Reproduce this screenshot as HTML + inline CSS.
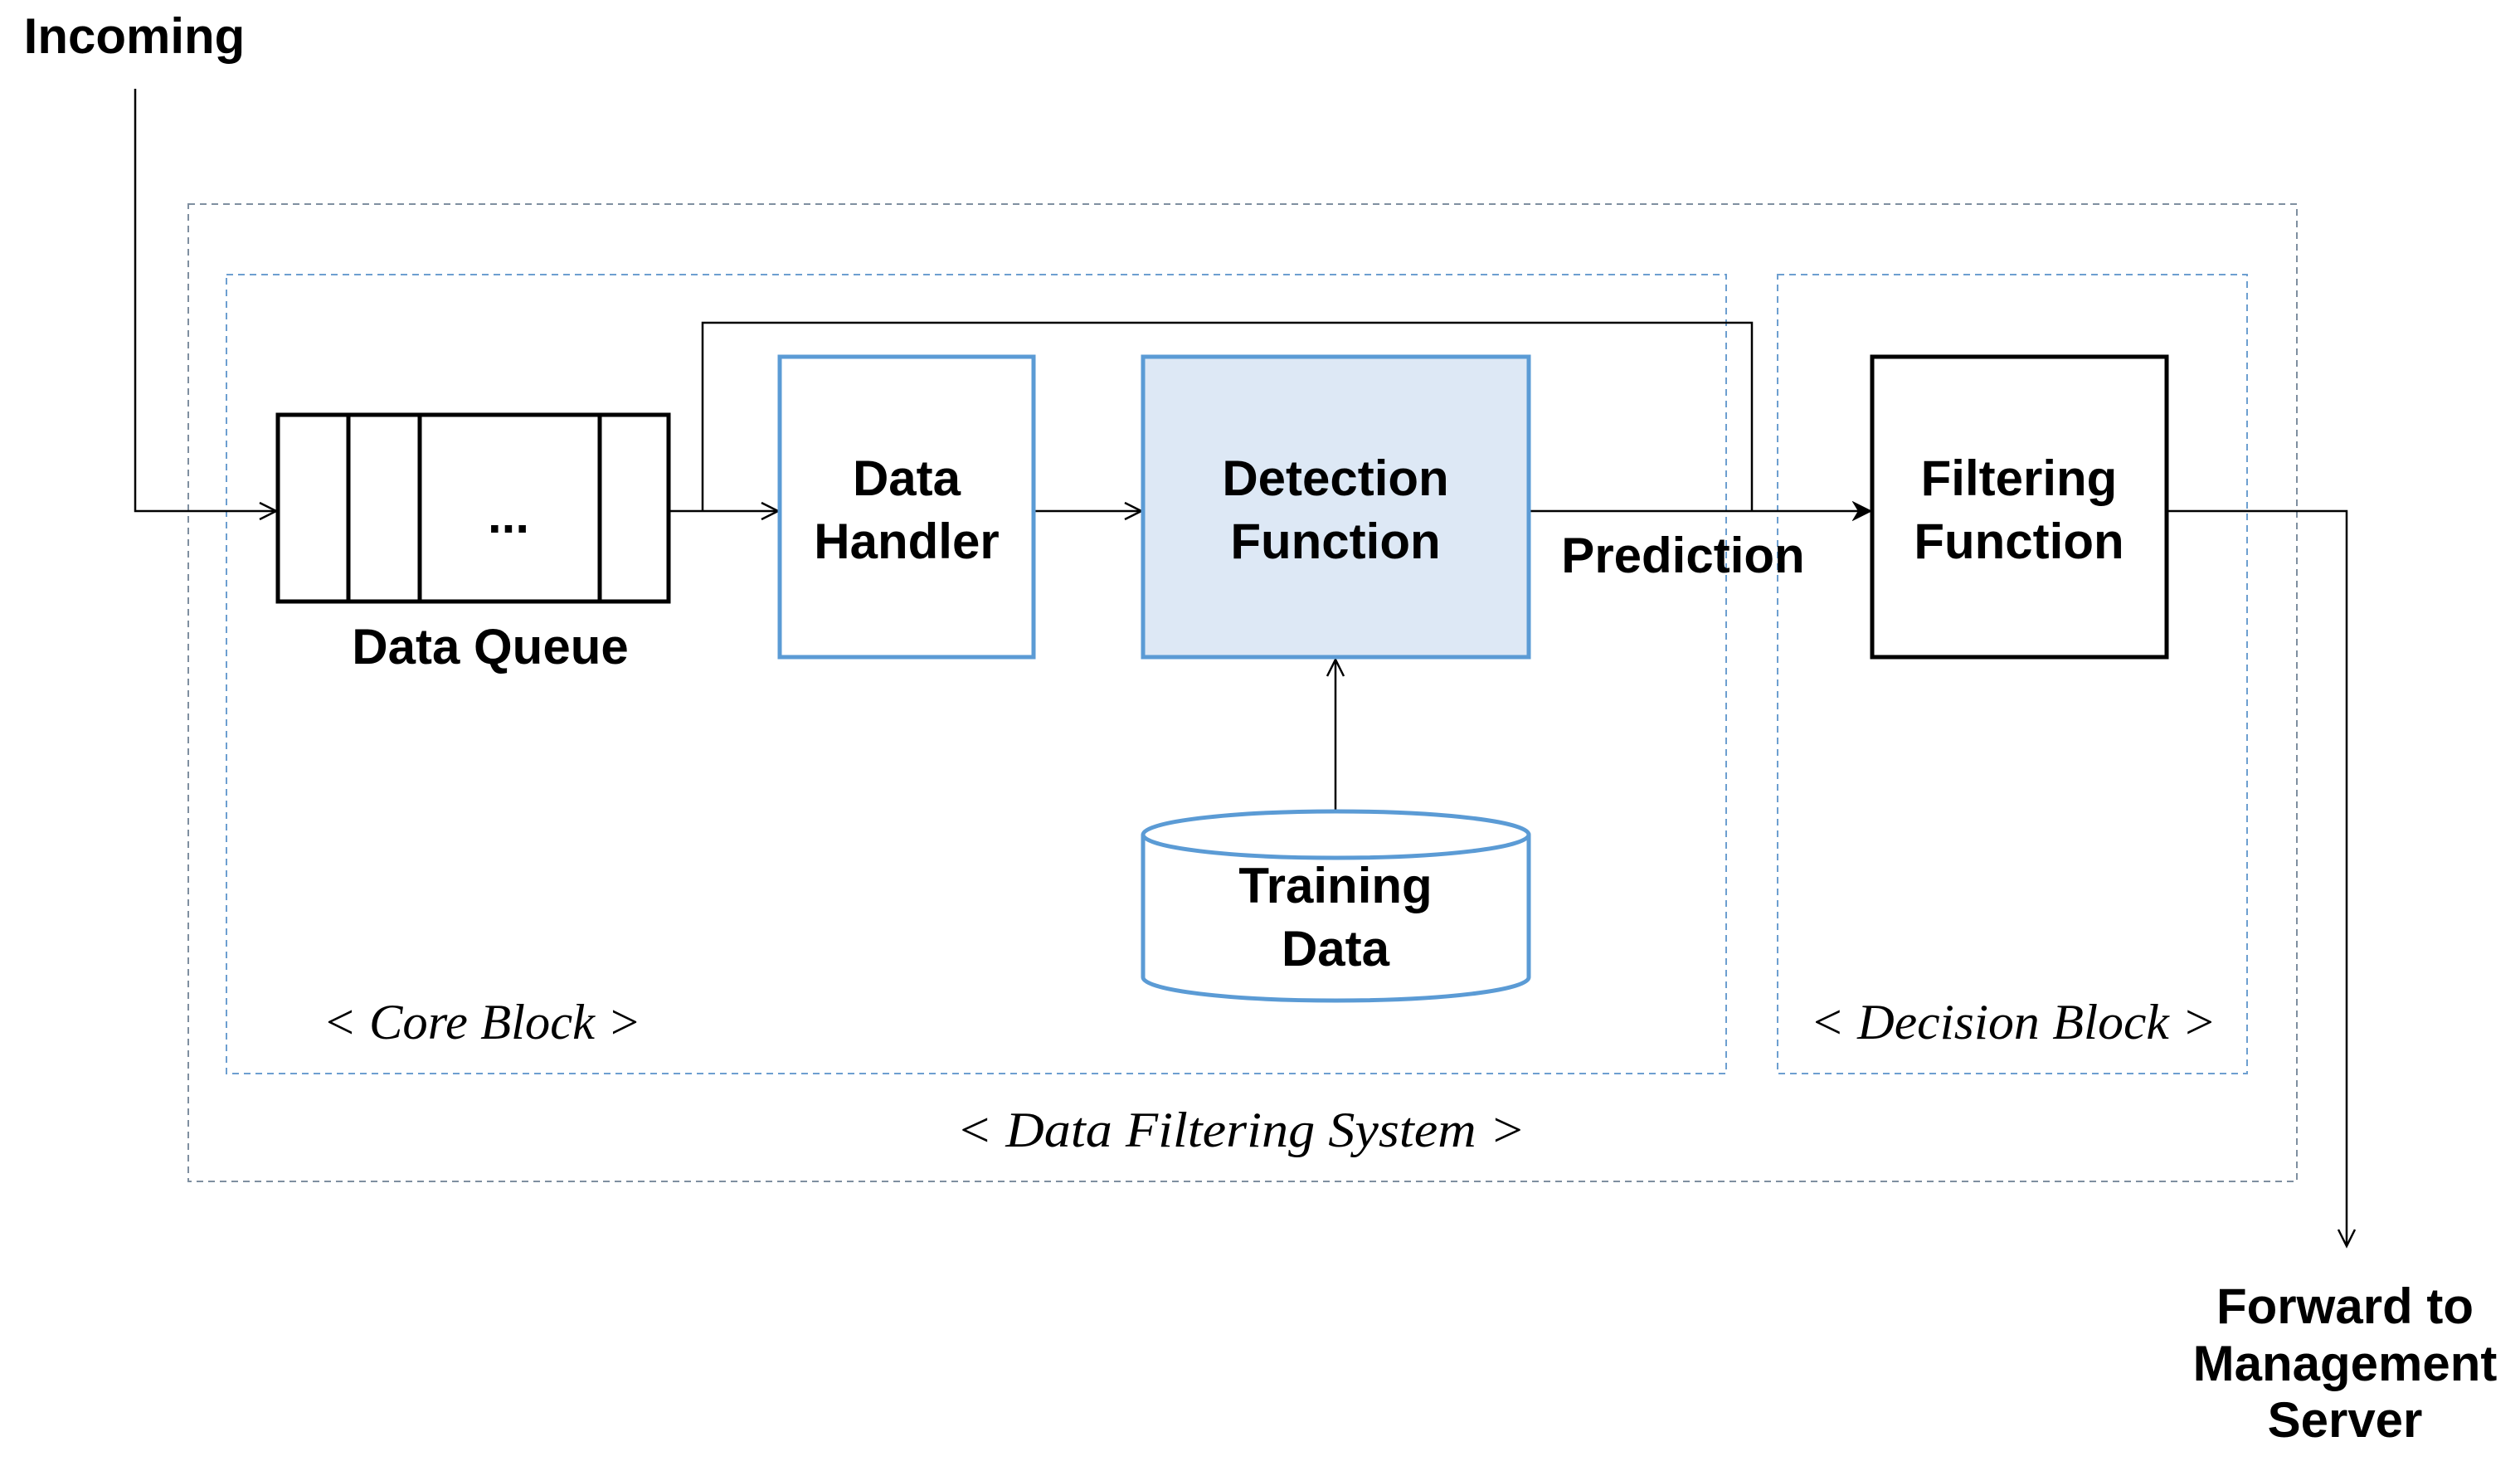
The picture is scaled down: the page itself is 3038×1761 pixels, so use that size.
<!DOCTYPE html>
<html><head><style>
html,body{margin:0;padding:0;background:#fff;}
</style></head><body>
<svg width="3038" height="1756" viewBox="0 0 3038 1756" xmlns="http://www.w3.org/2000/svg">
<defs>
<marker id="oa" markerWidth="30" markerHeight="30" refX="22" refY="12" orient="auto" markerUnits="userSpaceOnUse">
<path d="M2,2 L22,12 L2,22" fill="none" stroke="#000" stroke-width="2.5"/>
</marker>
<marker id="fa" markerWidth="30" markerHeight="30" refX="22" refY="12" orient="auto" markerUnits="userSpaceOnUse">
<path d="M2,2 L22,12 L2,22 L8,12 Z" fill="#000" stroke="#000" stroke-width="2"/>
</marker>
</defs>
<g fill="none" stroke-dasharray="8,6" stroke-width="2">
<rect x="227" y="246" width="2542" height="1178" stroke="#7f8fa0"/>
<rect x="273" y="331" width="1808" height="963" stroke="#6d9fd0"/>
<rect x="2143" y="331" width="566" height="963" stroke="#6d9fd0"/>
</g>
<g stroke="#000" stroke-width="2.5" fill="none">
<polyline points="163,107 163,616 333,616" marker-end="url(#oa)"/>
<line x1="806" y1="616" x2="938" y2="616" marker-end="url(#oa)"/>
<polyline points="847,616 847,389 2112,389 2112,616"/>
<line x1="1246" y1="616" x2="1376" y2="616" marker-end="url(#oa)"/>
<line x1="1843" y1="616" x2="2255" y2="616" marker-end="url(#fa)"/>
<polyline points="2612,616 2829,616 2829,1502" marker-end="url(#oa)"/>
<line x1="1610" y1="978" x2="1610" y2="795" marker-end="url(#oa)"/>
</g>
<g stroke="#000" stroke-width="5" fill="#fff">
<rect x="335" y="500" width="471" height="225"/>
<line x1="420" y1="500" x2="420" y2="725"/>
<line x1="506" y1="500" x2="506" y2="725"/>
<line x1="723" y1="500" x2="723" y2="725"/>
<rect x="2257" y="430" width="355" height="362"/>
</g>
<rect x="940" y="430" width="306" height="362" fill="#fff" stroke="#5b9bd5" stroke-width="5"/>
<rect x="1378" y="430" width="465" height="362" fill="#dde8f5" stroke="#5b9bd5" stroke-width="5"/>
<path d="M1378,1006 L1378,1178 A232.5,28 0 0 0 1843,1178 L1843,1006" fill="#fff" stroke="#5b9bd5" stroke-width="5"/>
<ellipse cx="1610.5" cy="1006" rx="232.5" ry="28" fill="#fff" stroke="#5b9bd5" stroke-width="5"/>
<g font-family="Liberation Sans, sans-serif" font-weight="bold" font-size="60" fill="#000" text-anchor="middle">
<text x="162" y="64">Incoming</text>
<text x="613" y="642">...</text>
<text x="591" y="800">Data Queue</text>
<text x="1093" y="597">Data</text>
<text x="1093" y="673">Handler</text>
<text x="1610" y="597">Detection</text>
<text x="1610" y="673">Function</text>
<text x="2434" y="597">Filtering</text>
<text x="2434" y="673">Function</text>
<text x="2029" y="690">Prediction</text>
<text x="1610" y="1088">Training</text>
<text x="1610" y="1164">Data</text>
<text x="2827" y="1595">Forward to</text>
<text x="2827" y="1664">Management</text>
<text x="2827" y="1732">Server</text>
</g>
<g font-family="Liberation Serif, serif" font-style="italic" font-size="60" fill="#000" text-anchor="middle">
<text x="581" y="1252" textLength="384" lengthAdjust="spacingAndGlyphs">&lt; Core Block &gt;</text>
<text x="2427" y="1252" textLength="490" lengthAdjust="spacingAndGlyphs">&lt; Decision Block &gt;</text>
<text x="1496" y="1382" textLength="686" lengthAdjust="spacingAndGlyphs">&lt; Data Filtering System &gt;</text>
</g>
</svg>
</body></html>
